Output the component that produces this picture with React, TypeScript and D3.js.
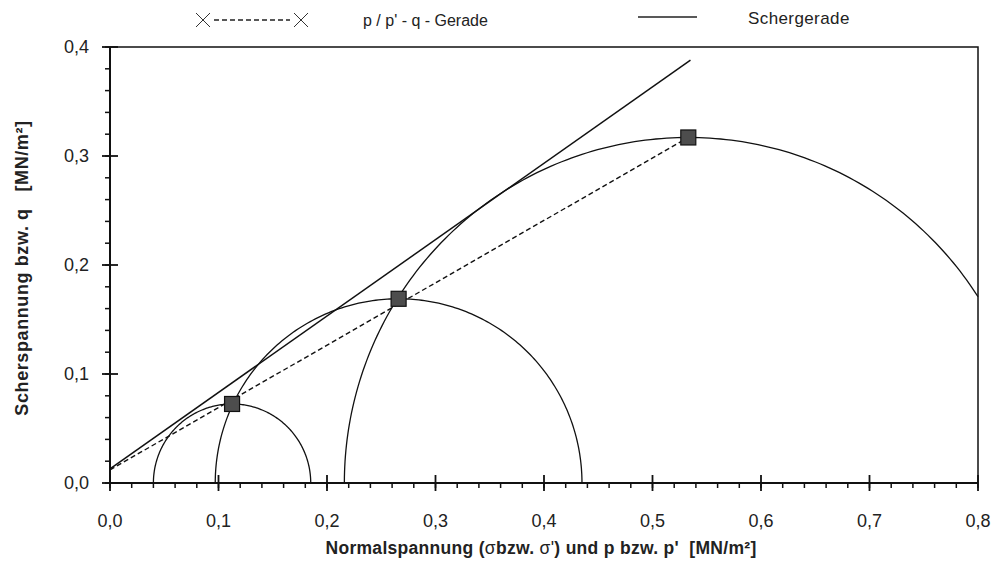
import React from "react";
import * as d3 from "d3";

const xTicks = [0, 0.1, 0.2, 0.3, 0.4, 0.5, 0.6, 0.7, 0.8];
const yTicks = [0, 0.1, 0.2, 0.3, 0.4];
// Mohr circles: center sigma, radius
const circleCenters = [0.1125, 0.266, 0.533];
const circleRadii = [0.0725, 0.169, 0.317];
// p/p'-q points (top of circles)
const pqP = [0.1125, 0.266, 0.533];
const pqQ = [0.0725, 0.169, 0.317];
// lines
const pqLineX = [0, 0.533];
const pqLineY = [0.012, 0.317];
const shearLineX = [0, 0.535];
const shearLineY = [0.013, 0.388];

const W = 995, H = 577;
const left = 110, right = 978, top = 47, bottom = 483;

export default function App() {
  const x = d3.scaleLinear().domain([0, 0.8]).range([left, right]);
  const y = d3.scaleLinear().domain([0, 0.4]).range([bottom, top]);
  const fmt = (v: number) => v.toFixed(1).replace(".", ",");
  const line = d3.line<[number, number]>().x(d => x(d[0])).y(d => y(d[1]));

  const circlePath = (c: number, r: number) => {
    const pts: [number, number][] = [];
    const n = 200;
    for (let i = 0; i <= n; i++) {
      const a = Math.PI - (Math.PI * i) / n;
      const s = c + r * Math.cos(a);
      const t = r * Math.sin(a);
      if (s <= 0.8 + 1e-9) pts.push([s, t]);
    }
    const last = pts[pts.length - 1];
    if (c + r > 0.8 && last[0] < 0.8) {
      pts.push([0.8, Math.sqrt(r * r - (0.8 - c) * (0.8 - c))]);
    }
    return line(pts) || "";
  };

  const xMinor = d3.range(0, 0.8001, 0.02);
  const yMinor = d3.range(0, 0.4001, 0.02);
  const font = "'Liberation Sans', Arial, sans-serif";

  return (
    <svg width={W} height={H} style={{ position: "absolute", left: 0, top: 0, background: "#fff" }} fontFamily={font}>
      <rect x={0} y={0} width={W} height={H} fill="#fff" />
      {/* frame */}
      <path d={`M${left},${top}H${right}V${bottom}`} fill="none" stroke="#111" strokeWidth={1.5} />
      <line x1={left} x2={right} y1={bottom} y2={bottom} stroke="#111" strokeWidth={2} />
      <line x1={left} x2={left} y1={top} y2={bottom} stroke="#111" strokeWidth={2} />
      {/* x ticks */}
      {xMinor.map((v, i) => (
        <line key={"xm" + i} x1={x(v)} x2={x(v)} y1={bottom} y2={bottom + 5} stroke="#111" strokeWidth={1.5} />
      ))}
      {xTicks.map((v, i) => (
        <g key={"xt" + i}>
          <line x1={x(v)} x2={x(v)} y1={bottom - 8} y2={bottom + 8} stroke="#111" strokeWidth={1.8} />
          <text x={x(v)} y={bottom + 44} textAnchor="middle" fontSize={18} fill="#222">{fmt(v)}</text>
        </g>
      ))}
      {/* y ticks */}
      {yMinor.map((v, i) => (
        <line key={"ym" + i} x1={left - 5} x2={left} y1={y(v)} y2={y(v)} stroke="#111" strokeWidth={1.5} />
      ))}
      {yTicks.map((v, i) => (
        <g key={"yt" + i}>
          <line x1={left - 8} x2={left + 8} y1={y(v)} y2={y(v)} stroke="#111" strokeWidth={1.8} />
          <text x={left - 21} y={y(v) + 6} textAnchor="end" fontSize={18} fill="#222">{fmt(v)}</text>
        </g>
      ))}
      {/* circles */}
      {circleCenters.map((c, i) => (
        <path key={"c" + i} d={circlePath(c, circleRadii[i])} fill="none" stroke="#111" strokeWidth={1.3} />
      ))}
      {/* shear line */}
      <path d={line(shearLineX.map((v, i) => [v, shearLineY[i]] as [number, number])) || ""} fill="none" stroke="#111" strokeWidth={1.5} />
      {/* p-q line */}
      <path d={line(pqLineX.map((v, i) => [v, pqLineY[i]] as [number, number])) || ""} fill="none" stroke="#111" strokeWidth={1.4} strokeDasharray="5,3" />
      {/* markers */}
      {pqP.map((p, i) => (
        <rect key={"m" + i} x={x(p) - 7.5} y={y(pqQ[i]) - 7.5} width={15} height={15} fill="#4d4d4d" stroke="#111" strokeWidth={1.2} />
      ))}
      {/* legend */}
      <g stroke="#333" strokeWidth={1}>
        <path d="M196,13L210,27M210,13L196,27" />
        <path d="M294,13L308,27M308,13L294,27" />
      </g>
      <line x1={214} x2={290} y1={20} y2={20} stroke="#222" strokeWidth={1.4} strokeDasharray="5,3" />
      <text x={363} y={26} fontSize={16} fill="#222" xmlSpace="preserve">p / p' - q - Gerade</text>
      <line x1={638} x2={697} y1={17} y2={17} stroke="#222" strokeWidth={1.5} />
      <text x={748} y={24} fontSize={17} fill="#222" letterSpacing={0.4}>Schergerade</text>
      {/* axis titles */}
      <text x={541} y={554} textAnchor="middle" fontSize={17.5} fontWeight="bold" fill="#222" letterSpacing={0.3} xmlSpace="preserve">
        Normalspannung (<tspan fontWeight="normal">σ</tspan>bzw. <tspan fontWeight="normal">σ'</tspan>) und p bzw. p'  [MN/m²]
      </text>
      <text transform={`translate(28,268) rotate(-90)`} textAnchor="middle" fontSize={18} fontWeight="bold" fill="#222" letterSpacing={0.6} xmlSpace="preserve">
        Scherspannung bzw. q   [MN/m²]
      </text>
    </svg>
  );
}
